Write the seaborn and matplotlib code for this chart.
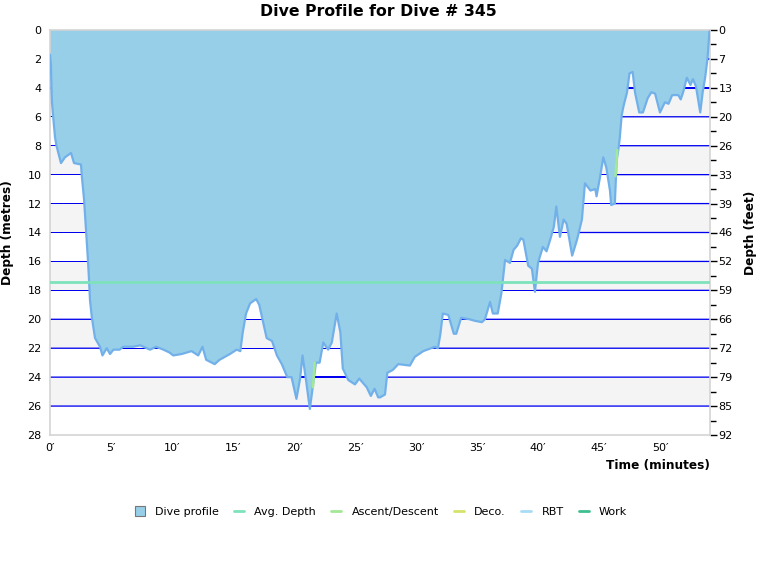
import matplotlib
matplotlib.use("Agg")
import matplotlib.pyplot as plt
import seaborn as sns
import pandas as pd
import numpy as np
from matplotlib.lines import Line2D

# ---------------- data ----------------
time_min = [0, 0.08, 0.12, 0.16, 0.25, 0.41, 0.53, 0.9, 1.23, 1.72,
            1.97, 2.54, 2.62, 2.79, 2.95, 3.11, 3.2, 3.28, 3.42, 3.69,
            4.1, 4.3, 4.65, 4.92, 5.2, 5.7, 6.0, 6.8, 7.4, 8.2,
            8.7, 9.3, 9.8, 10.1, 10.8, 11.6, 12.15, 12.5, 12.8, 13.5,
            13.9, 14.75, 15.3, 15.6, 15.8, 16.07, 16.4, 16.9, 17.15, 17.5,
            17.76, 18.2, 18.6, 19.0, 19.45, 19.8, 20.2, 20.5, 20.7, 21.0,
            21.3, 21.6, 21.8, 22.1, 22.4, 22.8, 23.1, 23.5, 23.8, 24.0,
            24.45, 25.0, 25.35, 25.96, 26.3, 26.6, 26.9, 27.05, 27.46, 27.65,
            28.1, 28.55, 29.5, 29.9, 30.6, 31.56, 31.8, 32.0, 32.2, 32.65,
            33.1, 33.3, 33.7, 34.4, 34.8, 35.4, 35.65, 36.07, 36.3, 36.7,
            37.0, 37.3, 37.7, 38.0, 38.3, 38.6, 38.8, 39.2, 39.5, 39.75,
            40.0, 40.4, 40.7, 41.0, 41.3, 41.5, 41.8, 42.1, 42.35, 42.8,
            43.2, 43.6, 43.85, 44.3, 44.7, 44.8, 45.1, 45.35, 45.6, 45.9,
            46.0, 46.3, 46.45, 46.6, 46.7, 46.86, 47.0, 47.3, 47.5, 47.76,
            47.95, 48.3, 48.6, 49.0, 49.3, 49.6, 50.0, 50.4, 50.7, 51.0,
            51.5, 51.7, 51.9, 52.2, 52.5, 52.7, 52.95, 53.3, 53.5, 53.7,
            53.9, 54.05]
depth_m = [1.7, 2.5, 4.0, 5.0, 5.9, 7.4, 8.0, 9.2, 8.8, 8.5,
           9.2, 9.3, 10.2, 11.7, 13.8, 15.9, 17.3, 18.7, 19.8, 21.3,
           21.9, 22.5, 22.0, 22.4, 22.1, 22.1, 21.9, 21.9, 21.8, 22.1,
           21.9, 22.1, 22.3, 22.5, 22.4, 22.2, 22.5, 21.9, 22.8, 23.1,
           22.8, 22.4, 22.1, 22.2, 20.9, 19.6, 18.9, 18.6, 19.0, 20.3,
           21.3, 21.5, 22.5, 23.1, 24.0, 24.0, 25.5, 24.1, 22.5, 24.3,
           26.2, 24.3, 23.0, 23.0, 21.6, 22.1, 21.6, 19.6, 20.9, 23.4,
           24.2, 24.5, 24.1, 24.7, 25.3, 24.8, 25.4, 25.4, 25.2, 23.7,
           23.5, 23.1, 23.2, 22.6, 22.2, 21.9, 22.0, 21.0, 19.6, 19.7,
           21.0, 21.0, 19.9, 20.0, 20.1, 20.2, 20.0, 18.8, 19.6, 19.6,
           18.2, 15.9, 16.1, 15.2, 14.9, 14.4, 14.5, 16.3, 16.5, 18.1,
           16.1, 15.0, 15.3, 14.5, 13.6, 12.2, 14.3, 13.1, 13.4, 15.6,
           14.5, 13.1, 10.6, 11.1, 11.0, 11.5, 10.1, 8.8, 9.5, 11.1,
           12.1, 12.0, 9.0, 8.2, 7.5, 5.9, 5.3, 4.3, 3.0, 2.9,
           4.3, 5.7, 5.7, 4.7, 4.3, 4.4, 5.7, 5.0, 5.1, 4.5,
           4.5, 4.8, 4.3, 3.3, 3.8, 3.4, 3.9, 5.7, 4.3, 3.3,
           1.95, 0.1]

avg_depth_m = 17.4

ascent1_t = [21.55, 21.7]
ascent1_d = [24.7, 23.0]
ascent2_t = [46.35, 46.5]
ascent2_d = [10.1, 8.3]

y_ticks_m = [0, 2, 4, 6, 8, 10, 12, 14, 16, 18, 20, 22, 24, 26, 28]
y_ticks_ft = ["0", "7", "13", "20", "26", "33", "39", "46", "52", "59",
              "66", "72", "79", "85", "92"]
x_ticks = [0, 5, 10, 15, 20, 25, 30, 35, 40, 45, 50]
x_tick_labels = ["0\u2032", "5\u2032", "10\u2032", "15\u2032", "20\u2032", "25\u2032",
                 "30\u2032", "35\u2032", "40\u2032", "45\u2032", "50\u2032"]

legend_labels = ["Dive profile", "Avg. Depth", "Ascent/Descent", "Deco.", "RBT", "Work"]

# ---------------- style ----------------
sns.set_style("white")
plt.rcParams['font.family'] = ['DejaVu Sans']
plt.rcParams['text.color'] = 'black'
plt.rcParams['axes.labelcolor'] = 'black'
plt.rcParams['xtick.color'] = 'black'
plt.rcParams['ytick.color'] = 'black'
plt.rcParams['axes.grid'] = False

FILL = "#97cfe9"
LINE = "#72b0ea"
AVG = "#7ee2bb"
ASC = "#a3e894"
DECO = "#d6e36b"
RBT = "#a8dcf4"
WORK = "#3dbf8f"

df = pd.DataFrame({"time": time_min, "depth": depth_m})
xmax = 54.1
ymax = 28

fig = plt.figure(figsize=(7.6, 5.8), dpi=100)
ax = fig.add_axes([50 / 760, 1 - 435 / 580, 660 / 760, 405 / 580])
ax.grid(False)
ax.set_xlim(0, xmax)
ax.set_ylim(ymax, 0)

for i in range(0, ymax, 4):
    ax.axhspan(i, i + 2, facecolor="#f4f4f4", lw=0, zorder=0.5)

# blue grid lines as thin filled strips, only where the profile does not cover them
t_fine = np.linspace(0, xmax, 8000)
d_fine = np.interp(t_fine, time_min, depth_m)
half = 0.045
for level in y_ticks_m[1:-1]:
    ax.fill_between(t_fine, level - half, level + half, where=d_fine < level,
                    facecolor="#0000ee", edgecolor="none", zorder=1)

ax.fill_between(df["time"], 0, df["depth"], facecolor=FILL, edgecolor="none", zorder=2)
sns.lineplot(data=df, x="time", y="depth", ax=ax, color=LINE, lw=1.6,
             sort=False, estimator=None, zorder=3)
ax.plot(ascent1_t, ascent1_d, color=ASC, lw=1.8, zorder=4)
ax.plot(ascent2_t, ascent2_d, color=ASC, lw=1.8, zorder=4)
ax.axhline(avg_depth_m, color=AVG, lw=2, zorder=5)

ax.set_yticks(y_ticks_m)
ax.set_yticklabels([str(v) for v in y_ticks_m], fontsize=8)
ax.set_xticks(x_ticks)
ax.set_xticklabels(x_tick_labels, fontsize=8)
ax.tick_params(axis="both", length=0, pad=6)
ax.set_xlabel("")
ax.set_ylabel("Depth (metres)", fontsize=8.7, fontweight="bold", labelpad=10)
for s in ax.spines.values():
    s.set_color("#d4d4d4")
    s.set_linewidth(1.2)

# right axis in feet
ax2 = ax.secondary_yaxis("right")
ax2.set_yticks(y_ticks_m)
ax2.set_yticklabels(y_ticks_ft, fontsize=8)
ax2.set_yticks([v + 1 for v in y_ticks_m[:-1]], minor=True)
ax2.tick_params(axis="y", which="major", length=5, width=1, color="black", pad=1)
ax2.tick_params(axis="y", which="minor", length=4, width=1, color="black")
ax2.set_ylabel("Depth (feet)", fontsize=8.7, fontweight="bold", labelpad=8)
ax2.spines["right"].set_visible(False)

fig.text(378 / 760, 1 - 12 / 580, "Dive Profile for Dive # 345", ha="center",
         va="center", fontsize=11.3, fontweight="bold")
fig.text(710 / 760, 1 - 466 / 580, "Time (minutes)", ha="right", va="center",
         fontsize=8.7, fontweight="bold")

handles = [
    Line2D([], [], marker="s", ls="none", markersize=7, markerfacecolor=FILL,
           markeredgecolor="#777777", markeredgewidth=0.8),
    Line2D([], [], color=AVG, lw=2),
    Line2D([], [], color=ASC, lw=2),
    Line2D([], [], color=DECO, lw=2),
    Line2D([], [], color=RBT, lw=2),
    Line2D([], [], color=WORK, lw=2),
]
fig.legend(handles, legend_labels, loc="center", bbox_to_anchor=(381 / 760, 1 - 512 / 580),
           ncol=6, frameon=False, fontsize=8, handlelength=0.9, handletextpad=0.9,
           columnspacing=1.4)

fig.savefig("out.png", dpi=100)
